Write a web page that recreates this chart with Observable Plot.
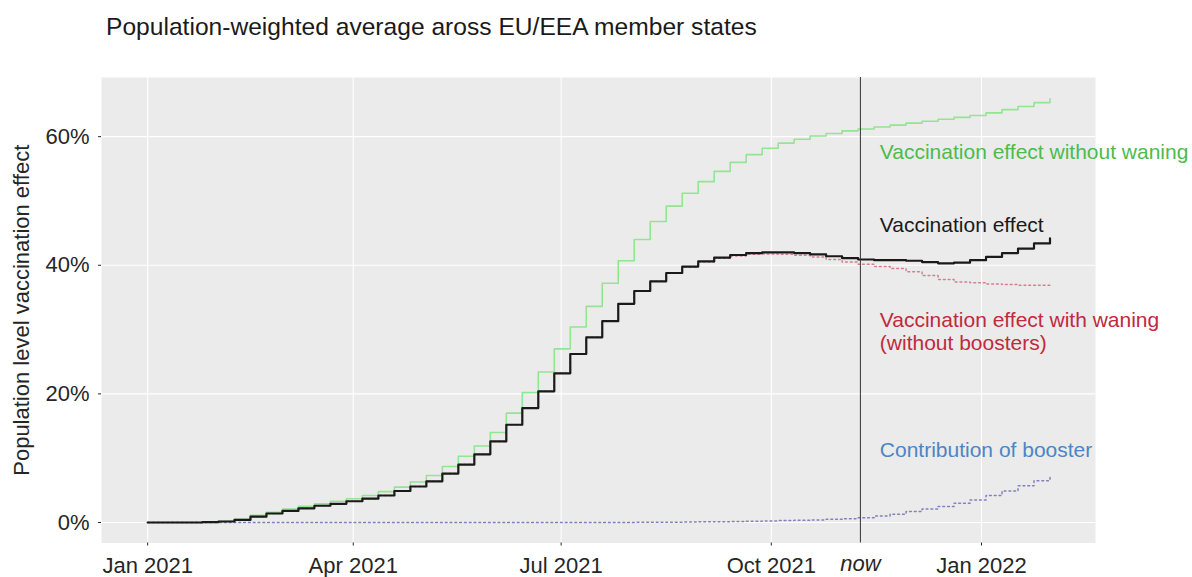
<!DOCTYPE html>
<html>
<head>
<meta charset="utf-8">
<script src="https://cdn.jsdelivr.net/npm/d3@7"></script>
<script src="https://cdn.jsdelivr.net/npm/@observablehq/plot@0.6"></script>
<style>
  html, body { margin: 0; padding: 0; background: #ffffff; }
  body { width: 1192px; height: 577px; overflow: hidden; font-family: "Liberation Sans", Arial, sans-serif; }
  #title { height: 60px; box-sizing: border-box; padding-top: 15px; padding-left: 106px; font-size: 24.6px; line-height: 24px; color: #1a1a1a; white-space: nowrap; }
  #chart svg { display: block; }
</style>
</head>
<body>
<div id="title">Population-weighted average aross EU/EEA member states</div>
<div id="chart"></div>
<script>
// Weekly dates (step changes on Mondays)
const weeks = ["2021-01-01","2021-01-04","2021-01-11","2021-01-18","2021-01-25","2021-02-01","2021-02-08","2021-02-15","2021-02-22","2021-03-01","2021-03-08","2021-03-15","2021-03-22","2021-03-29","2021-04-05","2021-04-12","2021-04-19","2021-04-26","2021-05-03","2021-05-10","2021-05-17","2021-05-24","2021-05-31","2021-06-07","2021-06-14","2021-06-21","2021-06-28","2021-07-05","2021-07-12","2021-07-19","2021-07-26","2021-08-02","2021-08-09","2021-08-16","2021-08-23","2021-08-30","2021-09-06","2021-09-13","2021-09-20","2021-09-27","2021-10-04","2021-10-11","2021-10-18","2021-10-25","2021-11-01","2021-11-08","2021-11-15","2021-11-22","2021-11-29","2021-12-06","2021-12-13","2021-12-20","2021-12-27","2022-01-03","2022-01-10","2022-01-17","2022-01-24","2022-01-31"];

// Vaccination effect without waning (%)
const withoutWaning = [0,0,0,0,0.05,0.2,0.5,1.1,1.6,2.1,2.5,2.9,3.3,3.7,4.2,4.8,5.5,6.3,7.3,8.7,10.3,11.9,14.0,17.0,20.2,23.4,27.0,30.4,33.6,37.2,40.7,44.0,46.8,49.2,51.2,53.0,54.6,56.0,57.2,58.2,59.0,59.6,60.1,60.5,60.9,61.2,61.5,61.8,62.1,62.4,62.7,63.0,63.3,63.7,64.2,64.7,65.3,65.9];

// Vaccination effect (%)
const vaccEffect = [0,0,0,0,0.05,0.15,0.4,0.9,1.4,1.8,2.2,2.6,2.9,3.3,3.7,4.2,4.9,5.6,6.4,7.6,9.0,10.6,12.6,15.2,17.8,20.4,23.2,26.2,28.8,31.3,34.0,36.0,37.5,38.8,39.8,40.6,41.2,41.6,41.9,42.0,42.0,41.9,41.7,41.4,41.1,40.9,40.8,40.8,40.7,40.5,40.3,40.4,40.8,41.3,41.9,42.6,43.4,44.2];

// Vaccination effect with waning, without boosters (%)
const withWaning = [0,0,0,0,0.05,0.15,0.4,0.9,1.4,1.8,2.2,2.6,2.9,3.3,3.7,4.2,4.9,5.6,6.4,7.6,9.0,10.6,12.6,15.2,17.8,20.4,23.2,26.2,28.8,31.3,34.0,36.0,37.5,38.75,39.7,40.5,41.1,41.45,41.7,41.75,41.7,41.55,41.3,40.9,40.5,40.15,39.8,39.5,39.0,38.4,37.8,37.4,37.3,37.1,37.0,36.9,36.9,36.8];

// Contribution of booster (%)
const booster = [0,0,0,0,0,0,0,0,0,0,0,0,0,0,0,0,0,0,0,0,0,0,0,0,0,0,0,0,0,0,0,0.02,0.03,0.05,0.07,0.1,0.12,0.15,0.2,0.25,0.3,0.35,0.4,0.5,0.6,0.75,1.0,1.3,1.7,2.1,2.5,3.0,3.5,4.2,4.9,5.7,6.5,7.4];

const xTicks = ["2021-01-01","2021-04-01","2021-07-01","2021-10-01","2022-01-01"];
const yTicks = [0, 20, 40, 60];
const nowDate = "2021-11-09";

const labelTexts = ["Vaccination effect without waning", "Vaccination effect", "Vaccination effect with waning\n(without boosters)", "Contribution of booster"];
const labelColors = ["#4dbb4d", "#1a1a1a", "#bf2a3e", "#4a86c5"];
const labelY = [59.1, 47.7, 32.95, 12.75];
const labelX = "2021-11-17T12:00Z";

const rows = weeks.map((w, i) => ({
  date: new Date(w),
  green: withoutWaning[i],
  black: vaccEffect[i],
  red: withWaning[i],
  blue: booster[i]
}));
const xTickDates = xTicks.map(d => new Date(d));
const labels = labelTexts.map((t, i) => ({text: t, color: labelColors[i], y: labelY[i], x: new Date(labelX)}));

const chart = Plot.plot({
  width: 1192,
  height: 517,
  marginTop: 17,
  marginLeft: 101,
  marginRight: 97,
  marginBottom: 34.5,
  style: {background: "transparent", fontFamily: "'Liberation Sans', Arial, sans-serif", color: "#262626"},
  x: {type: "utc", domain: [new Date("2020-12-11T19:00Z"), new Date("2022-02-19T22:00Z")]},
  y: {domain: [-3.19, 69.2]},
  marks: [
    Plot.frame({fill: "#ebebeb", stroke: "none"}),
    Plot.gridX(xTickDates, {stroke: "#ffffff", strokeOpacity: 1, strokeWidth: 1.1}),
    Plot.gridY(yTicks, {stroke: "#ffffff", strokeOpacity: 1, strokeWidth: 1.1}),
    Plot.line(rows, {x: "date", y: "blue", curve: "step-after", stroke: "#8480bc", strokeWidth: 1.5, strokeDasharray: "1.8,3"}),
    Plot.line(rows, {x: "date", y: "red", curve: "step-after", stroke: "#d2808e", strokeWidth: 1.5, strokeDasharray: "1.8,3"}),
    Plot.line(rows, {x: "date", y: "green", curve: "step-after", stroke: "#93e593", strokeWidth: 1.6}),
    Plot.line(rows, {x: "date", y: "black", curve: "step-after", stroke: "#1a1a1a", strokeWidth: 2.2}),
    Plot.ruleX([new Date(nowDate)], {stroke: "#333333", strokeWidth: 1}),
    Plot.axisX(xTickDates, {tickSize: 3, tickPadding: 11, fontSize: 22, tickFormat: d3.utcFormat("%b %Y"), label: null, color: "#262626"}),
    Plot.axisY(yTicks, {tickSize: 3, tickPadding: 9, fontSize: 22, tickFormat: d => d + "%", label: "Population level vaccination effect", labelAnchor: "center", labelArrow: "none", labelOffset: 88, color: "#262626"}),
    Plot.text([new Date(nowDate)], {x: d => d, frameAnchor: "bottom", lineAnchor: "top", dy: 12, text: () => "now", fontStyle: "italic", fontSize: 22, fill: "#262626"}),
    ...labels.map(l => Plot.text([l], {x: "x", y: "y", text: "text", fill: l.color, textAnchor: "start", lineAnchor: "top", fontSize: 21, lineHeight: 23 / 21}))
  ]
});
document.getElementById("chart").appendChild(chart);
</script>
</body>
</html>
